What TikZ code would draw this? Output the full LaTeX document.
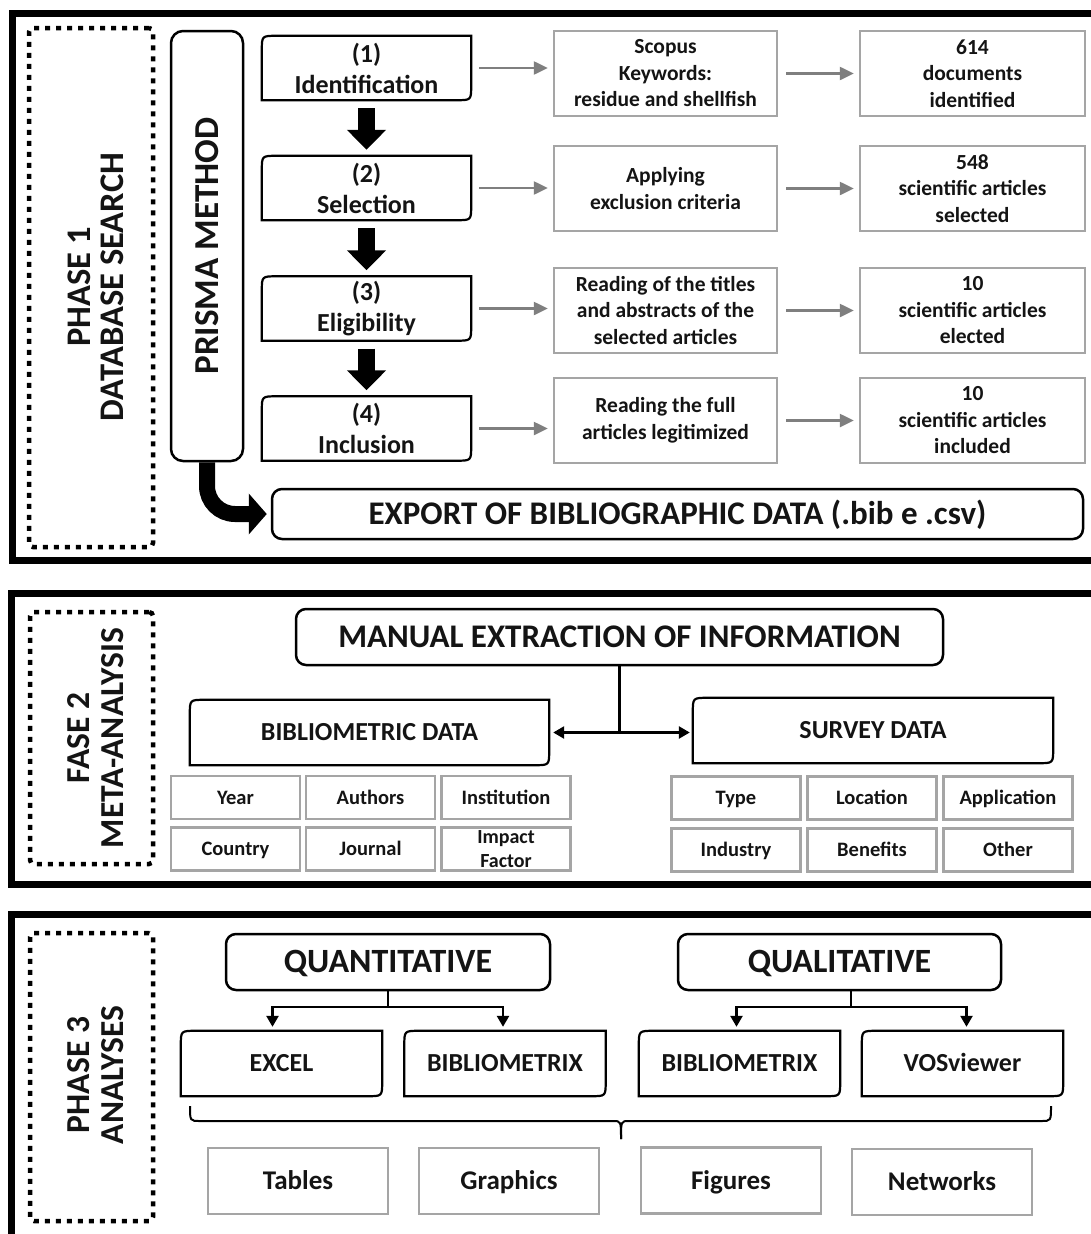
\documentclass[tikz,border=0pt]{standalone}
\usepackage{fontspec}
\setmainfont{Carlito}
\usetikzlibrary{arrows.meta,calc}
\definecolor{garr}{RGB}{127,127,127}
\definecolor{gbox}{RGB}{165,165,165}
\newcommand\fs[2]{\fontsize{#1pt}{#2pt}\selectfont\bfseries}
\newcommand\tlbr[2][]{\draw[line width=2.2pt,#1] (#2.south west) -- ([yshift=-15pt]#2.north west) .. controls (#2.north west) .. ([xshift=15pt]#2.north west) -- (#2.north east) -- ([yshift=15pt]#2.south east) .. controls (#2.south east) .. ([xshift=-15pt]#2.south east) -- cycle;}
\begin{document}
\begin{tikzpicture}[x=1pt,y=-1pt,
  frame/.style={draw=black,line width=7pt},
  dotbox/.style={draw=black,line width=4.5pt,dash pattern=on 5pt off 6pt,rounded corners=4pt,inner sep=0pt},
  txt/.style={align=center,inner sep=0pt,text=black!92},
  one/.style={text height=#1,text depth=0pt},
  bbox/.style={txt,draw=black,line width=2.5pt,rounded corners=10pt},
  gbx/.style={txt,draw=gbox,line width=2.5pt},
  garrow/.style={draw=garr,line width=2.5pt,-{Triangle[length=14pt,width=13pt]},shorten <=8pt,shorten >=5pt},
  blk/.style={draw=black,line width=17pt,-{Triangle[length=20pt,width=38pt]},shorten <=8pt,shorten >=6pt},
  conn/.style={draw=black,line width=2.5pt},
  carrow/.style={conn,-{Triangle[length=11pt,width=12pt]}},
]
\useasboundingbox (0,0) rectangle (1091,1234);
\clip (0,0) rectangle (1091,1234);
\fill[white] (0,0) rectangle (1091,1234);

% ---------------- PHASE 1 ----------------
\draw[frame] (12,13) rectangle (1130,560);
\node[dotbox,minimum width=124pt,minimum height=519pt] (d1) at (91,287.5) {};
\node[txt,rotate=90,font=\fs{34.5}{33}] (p1) at (96,287) {PHASE 1\\DATABASE SEARCH};
\node[bbox,rounded corners=12pt,minimum width=430pt,minimum height=72pt,rotate=90,font=\fs{35}{35}] (prisma) at (207,246) {PRISMA METHOD};

\foreach \n/\y/\t in {s1/68/{(1)\\Identification},s2/188/{(2)\\Selection},s3/308.5/{(3)\\Eligibility},s4/428.5/{(4)\\Inclusion}}{
  \node[txt,minimum width=209pt,minimum height=64pt,font=\fs{26}{31}] (\n) at (366.5,\y) {\t};
  \tlbr{\n}
}
\draw[blk] (s1.south) -- (s2.north);
\draw[blk] (s2.south) -- (s3.north);
\draw[blk] (s3.south) -- (s4.north);

\node[gbx,minimum width=223pt,minimum height=85pt,font=\fs{21.5}{26.5}] (m1) at (665.5,73.5) {Scopus\\Keywords:\\residue and shellfish};
\node[gbx,minimum width=223pt,minimum height=85pt,font=\fs{21.5}{26.5}] (m2) at (665.5,188.5) {Applying\\exclusion criteria};
\node[gbx,minimum width=223pt,minimum height=85pt,font=\fs{21.5}{26.5}] (m3) at (665.5,310.5) {Reading of the titles\\and abstracts of the\\selected articles};
\node[gbx,minimum width=223pt,minimum height=85pt,font=\fs{21.5}{26.5}] (m4) at (665.5,420.5) {Reading the full\\articles legitimized};

\node[gbx,minimum width=225pt,minimum height=85pt,font=\fs{21.5}{26.5}] (r1) at (972.5,73.5) {614\\documents\\identified};
\node[gbx,minimum width=225pt,minimum height=85pt,font=\fs{21.5}{26.5}] (r2) at (972.5,188.5) {548\\scientific articles\\selected};
\node[gbx,minimum width=225pt,minimum height=85pt,font=\fs{21.5}{26.5}] (r3) at (972.5,310.5) {10\\scientific articles\\elected};
\node[gbx,minimum width=225pt,minimum height=85pt,font=\fs{21.5}{26.5}] (r4) at (972.5,420.5) {10\\scientific articles\\included};

\foreach \i in {1,2,3,4}{
  \draw[garrow] (s\i.east) -- (s\i.east -| m\i.west);
  \draw[garrow] (m\i.east) -- (m\i.east -| r\i.west);
}

\node[bbox,one=21.3pt,minimum width=811pt,minimum height=50pt,font=\fs{33}{33}] (export) at (677.5,514) {EXPORT OF BIBLIOGRAPHIC DATA (.bib e .csv)};
\draw[draw=black,line width=16pt,rounded corners=28pt,-{Triangle[length=18pt,width=40pt]}] (prisma.west) |- ([xshift=-4pt]export.west);

% ---------------- PHASE 2 ----------------
\draw[frame] (11,593) rectangle (1130,884);
\node[dotbox,minimum width=123pt,minimum height=252pt] (d2) at (91.5,738) {};
\node[txt,rotate=90,font=\fs{33.5}{34}] (p2) at (96,738) {FASE 2\\META-ANALYSIS};

\node[bbox,one=21.3pt,minimum width=647pt,minimum height=56pt,font=\fs{33}{33}] (manual) at (619.5,637) {MANUAL EXTRACTION OF INFORMATION};
\node[txt,one=16.7pt,minimum width=359pt,minimum height=65pt,font=\fs{26}{26}] (bib) at (369.5,732.5) {BIBLIOMETRIC DATA};
\tlbr{bib}
\node[txt,one=16.7pt,minimum width=360pt,minimum height=65pt,font=\fs{26}{26}] (survey) at (873,730.5) {SURVEY DATA};
\tlbr{survey}
\draw[conn] (manual.south) -- (manual.south |- bib.east);
\draw[conn,{Triangle[length=11pt,width=12pt]}-{Triangle[length=11pt,width=12pt]}] ([xshift=4pt]bib.east) -- ([xshift=-3pt]bib.east -| survey.west);

\foreach \n/\x/\y/\t in {g1/235.5/797.5/Year,g2/370.5/797.5/Authors,g3/506/797.5/Institution,g4/235.5/849/Country,g5/370.5/849/Journal}{
  \node[gbx,one=13.2pt,minimum width=129pt,minimum height=43pt,font=\fs{20.5}{24}] (\n) at (\x,\y) {\t};
}
\node[gbx,minimum width=129pt,minimum height=43pt,font=\fs{20}{24}] (g6) at (506,849) {Impact\\Factor};
\foreach \n/\x/\y/\t in {h1/736/798/Type,h2/872/798/Location,h3/1008/798/Application,h4/736/850/Industry,h5/872/850/Benefits,h6/1008/850/Other}{
  \node[gbx,one=13.2pt,minimum width=129pt,minimum height=43pt,font=\fs{20.5}{24}] (\n) at (\x,\y) {\t};
}

% ---------------- PHASE 3 ----------------
\draw[frame] (11,914) rectangle (1130,1280);
\node[dotbox,minimum width=123pt,minimum height=288pt] (d3) at (91.5,1077) {};
\node[txt,rotate=90,font=\fs{33.5}{34}] (p3) at (96,1075) {PHASE 3\\ANALYSES};

\node[bbox,one=21.9pt,minimum width=324pt,minimum height=56pt,font=\fs{34}{34}] (quant) at (388,962) {QUANTITATIVE};
\node[bbox,one=21.9pt,minimum width=323pt,minimum height=56pt,font=\fs{34}{34}] (qual) at (839.5,962) {QUALITATIVE};

\node[txt,one=16.7pt,minimum width=201pt,minimum height=65pt,font=\fs{26}{26}] (excel) at (281.5,1063.5) {EXCEL};
\tlbr{excel}
\node[txt,one=16.7pt,minimum width=201pt,minimum height=65pt,font=\fs{26}{26}] (bibx) at (505,1063.5) {BIBLIOMETRIX};
\tlbr{bibx}
\node[txt,one=16.7pt,minimum width=201pt,minimum height=65pt,font=\fs{26}{26}] (bibq) at (739.5,1063.5) {BIBLIOMETRIX};
\tlbr{bibq}
\node[txt,one=16.7pt,minimum width=201pt,minimum height=65pt,font=\fs{26}{26}] (vos) at (962.5,1063.5) {VOSviewer};
\tlbr{vos}

\coordinate (qj) at (388,1007);
\coordinate (qk) at (851,1007);
\draw[conn] (quant.south) -- (qj);
\draw[carrow,shorten >=4pt] (qj) -| ([xshift=-9pt]excel.north);
\draw[carrow,shorten >=4pt] (qj) -| ([xshift=-2pt]bibx.north);
\draw[conn] (qk |- qual.south) -- (qk);
\draw[carrow,shorten >=4pt] (qk) -| ([xshift=-3pt]bibq.north);
\draw[carrow,shorten >=4pt] (qk) -| ([xshift=4pt]vos.north);

% brace
\draw[line width=2pt] (190,1106) .. controls (190,1121) .. (200,1121) -- (613,1121) .. controls (621,1121) .. (621,1139);
\draw[line width=2pt] (1051,1106) .. controls (1051,1121) .. (1041,1121) -- (629,1121) .. controls (621,1121) .. (621,1139);

\node[gbx,one=17.4pt,minimum width=180pt,minimum height=66pt,font=\fs{27}{27}] (tables) at (298,1181) {Tables};
\node[gbx,one=17.4pt,minimum width=180pt,minimum height=66pt,font=\fs{27}{27}] (graphics) at (509,1181) {Graphics};
\node[gbx,one=17.4pt,minimum width=180pt,minimum height=66pt,font=\fs{27}{27}] (figures) at (731,1180.5) {Figures};
\node[gbx,one=17.4pt,minimum width=180pt,minimum height=66pt,font=\fs{27}{27}] (networks) at (942,1182) {Networks};
\end{tikzpicture}
\end{document}
